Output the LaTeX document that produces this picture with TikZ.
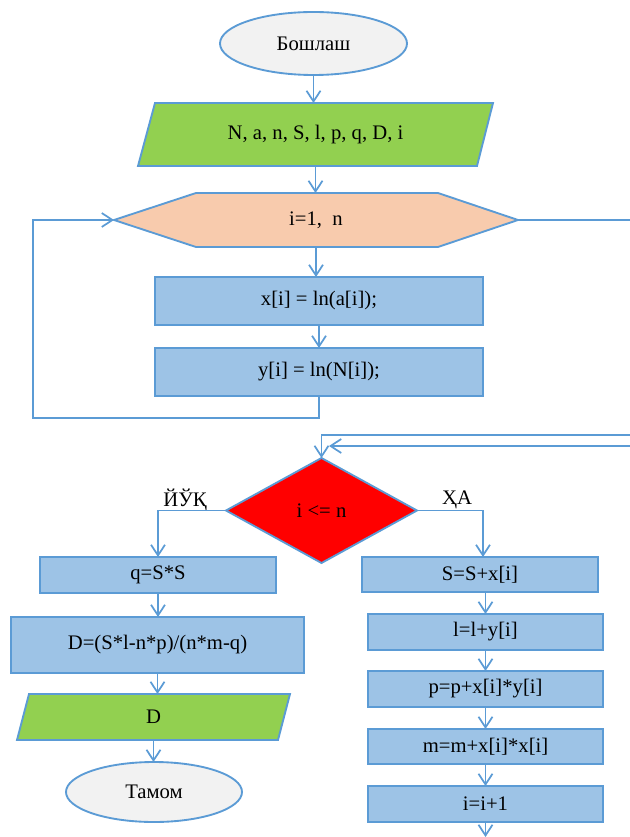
\documentclass[tikz,border=0pt]{standalone}
\usepackage{fontspec}
\setmainfont{Liberation Serif}
\usetikzlibrary{arrows.meta,shapes.geometric,calc,backgrounds}
\definecolor{bord}{HTML}{5B9BD5}
\definecolor{boxfill}{HTML}{9DC3E6}
\definecolor{grn}{HTML}{92D050}
\definecolor{peach}{HTML}{F8CBAD}
\definecolor{oval}{HTML}{F2F2F2}
\begin{document}
\begin{tikzpicture}[x=0.75pt,y=-0.75pt,
  every node/.style={font=\fontsize{15.5}{18}\selectfont, inner sep=0pt, outer sep=0pt},
  proc/.style={rectangle, draw=bord, fill=boxfill, line width=1.4pt},
  term/.style={ellipse, draw=bord, fill=oval, line width=1.4pt},
  bbox/.style={rectangle, draw=none},
  shapeline/.style={draw=bord, line width=1.4pt},
  flow/.style={draw=bord, line width=1.3pt},
  arr/.style={flow, -{Straight Barb[length=8pt,width=10.5pt]}},
  lbl/.style={font=\fontsize{15.5}{18}\selectfont}]
\useasboundingbox (0,0) rectangle (630,837);

% nodes
\node[term, minimum width=187*0.75pt, minimum height=63*0.75pt] (start) at (313.5,43.5) {Бошлаш};
\node[bbox, minimum width=355*0.75pt, minimum height=63*0.75pt] (inp) at (315.5,134.5) {N, a, n, S, l, p, q, D, i};
\node[bbox, minimum width=404*0.75pt, minimum height=54*0.75pt] (loop) at (316,220) {i=1,~~n};
\node[proc, minimum width=328*0.75pt, minimum height=48*0.75pt] (x1) at (319,301) {x[i] = ln(a[i]);};
\node[proc, minimum width=328*0.75pt, minimum height=48*0.75pt] (y1) at (319,372) {y[i] = ln(N[i]);};
\node[diamond, draw=bord, fill=red, line width=1.4pt, minimum width=191*0.75pt, minimum height=105*0.75pt] (dec) at (321.5,510.5) {i <= n};
\node[proc, minimum width=236*0.75pt, minimum height=36*0.75pt] (q) at (158,575) {q=S*S};
\node[proc, minimum width=293*0.75pt, minimum height=56*0.75pt] (dd) at (157.5,645) {D=(S*l-n*p)/(n*m-q)};
\node[bbox, minimum width=273*0.75pt, minimum height=46*0.75pt] (outp) at (153.5,717) {D};
\node[term, minimum width=176*0.75pt, minimum height=60*0.75pt] (end) at (154,792) {Тамом};
\node[proc, minimum width=236*0.75pt, minimum height=35*0.75pt] (s1) at (480,574.5) {S=S+x[i]};
\node[proc, minimum width=235*0.75pt, minimum height=36*0.75pt] (l1) at (485.5,632) {l=l+y[i]};
\node[proc, minimum width=235*0.75pt, minimum height=36*0.75pt] (p1) at (485.5,689) {p=p+x[i]*y[i]};
\node[proc, minimum width=235*0.75pt, minimum height=35*0.75pt] (m1) at (485.5,746.5) {m=m+x[i]*x[i]};
\node[proc, minimum width=235*0.75pt, minimum height=36*0.75pt] (i1) at (485.5,804) {i=i+1};
\node[lbl] (no) at (185,500) {ЙЎҚ};
\node[lbl] (yes) at (457,500) {ҲА};

% shapes drawn behind the texts
\begin{scope}[on background layer]
\path[shapeline, fill=grn] ($(inp.north west)+(17,0)$) -- (inp.north east)
  -- ($(inp.south east)+(-16,0)$) -- (inp.south west) -- cycle;
\path[shapeline, fill=peach] (loop.west) -- ($(loop.north west)+(82,0)$)
  -- ($(loop.north east)+(-80,0)$) -- (loop.east) -- ($(loop.south east)+(-80,0)$)
  -- ($(loop.south west)+(82,0)$) -- cycle;
\path[shapeline, fill=grn] ($(outp.north west)+(12,0)$) -- (outp.north east)
  -- ($(outp.south east)+(-12,0)$) -- (outp.south west) -- cycle;
\end{scope}

% free ends
\coordinate (lb) at (33,418);
\coordinate (r1) at (630,220);
\coordinate (r2) at (630,435);
\coordinate (r3) at (630,446);
\coordinate (r3e) at (329,446);
\coordinate (iend) at (485.5,837);

% connectors
\draw[arr] (start.south) -- (start.south |- inp.north);
\draw[arr] (inp.south) -- (inp.south |- loop.north);
\draw[arr] (loop.south) -- (loop.south |- x1.north);
\draw[arr] (x1.south) -- (y1.north);
\draw[arr] (y1.south) |- (lb) |- (loop.west);
\draw[flow] (loop.east) -- (r1);
\draw[arr] (r2) -| (dec.north);
\draw[arr] (r3) -- (r3e);
\draw[arr] (dec.west) -| (q.north);
\draw[arr] (dec.east) -| ($(s1.north)+(3,0)$);
\draw[arr] (q.south) -- (q.south |- dd.north);
\draw[arr] (dd.south) -- (dd.south |- outp.north);
\draw[arr] (outp.south) -- (outp.south |- end.north);
\draw[arr] (l1.north |- s1.south) -- (l1.north);
\draw[arr] (l1.south) -- (p1.north);
\draw[arr] (p1.south) -- (m1.north);
\draw[arr] (m1.south) -- (i1.north);
\draw[arr] (i1.south) -- (iend);
\end{tikzpicture}
\end{document}
